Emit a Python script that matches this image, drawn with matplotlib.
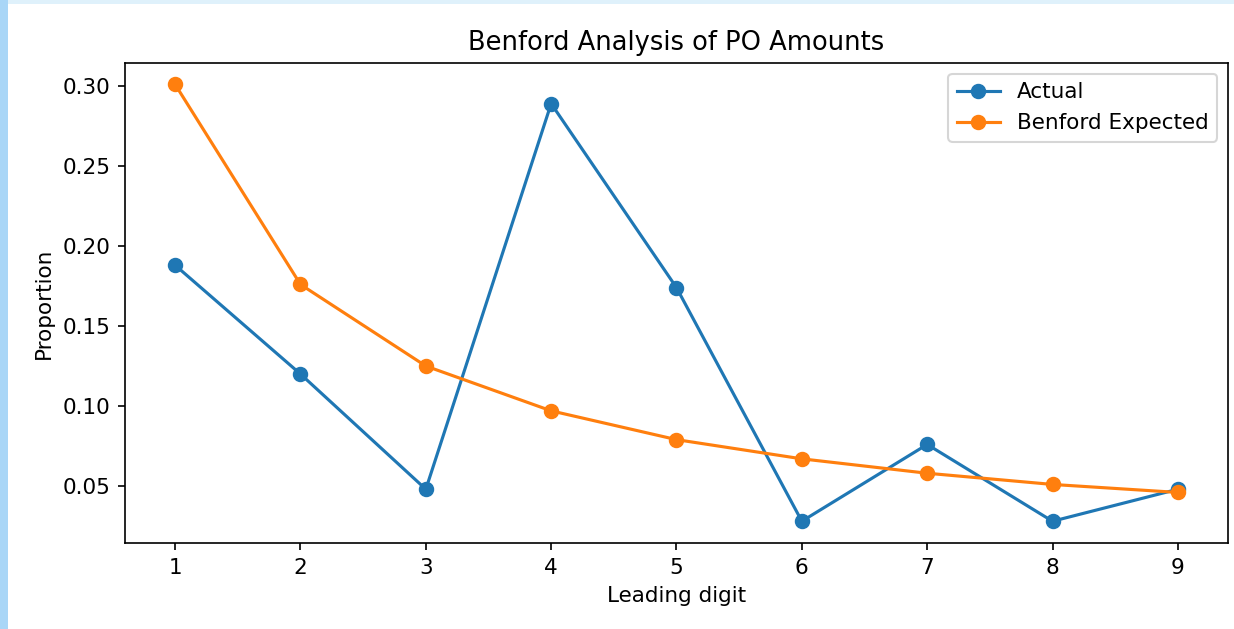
import matplotlib
matplotlib.use('Agg')
import matplotlib.pyplot as plt
from matplotlib.patches import Rectangle

# values
digits = [1, 2, 3, 4, 5, 6, 7, 8, 9]
actual = [0.188, 0.120, 0.048, 0.289, 0.174, 0.028, 0.076, 0.028, 0.048]
benford = [0.301, 0.176, 0.125, 0.097, 0.079, 0.067, 0.058, 0.051, 0.046]


def main():
    plt.rcParams['font.size'] = 10.3
    fig = plt.figure(figsize=(1235 / 150, 629 / 150), dpi=150)

    # light blue screenshot border on the top and left edges
    fig.patches.append(Rectangle((0, 1 - 4 / 629), 1, 4 / 629,
                                 transform=fig.transFigure,
                                 facecolor='#dff1fb', edgecolor='none'))
    fig.patches.append(Rectangle((0, 0), 8 / 1235, 1,
                                 transform=fig.transFigure,
                                 facecolor='#a9d6f7', edgecolor='none'))

    ax = fig.add_axes([125 / 1235, 1 - 543 / 629,
                       (1228 - 125) / 1235, (543 - 63) / 629])
    ax.plot(digits, actual, marker='o', markersize=6.4, label='Actual')
    ax.plot(digits, benford, marker='o', markersize=6.4,
            label='Benford Expected')
    ax.set_xticks(digits)
    ax.set_yticks([0.05, 0.10, 0.15, 0.20, 0.25, 0.30])
    ax.set_ylim(0.0144, 0.3144)
    ax.set_xlabel('Leading digit')
    ax.set_ylabel('Proportion')
    ax.set_title('Benford Analysis of PO Amounts')
    ax.legend()

    fig.savefig('out.png', dpi=150)


if __name__ == '__main__':
    main()
